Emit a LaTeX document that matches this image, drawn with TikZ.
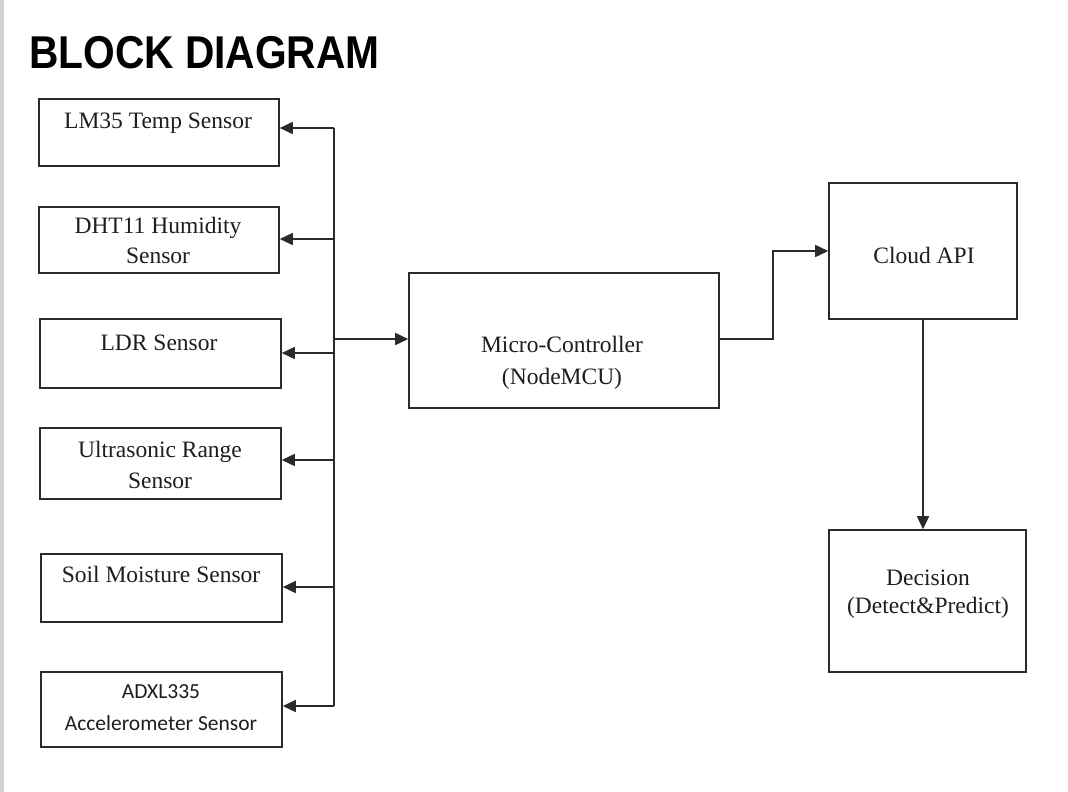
\documentclass[tikz,border=0pt]{standalone}
\usepackage{graphicx}
\usepackage{fontspec}
\setmainfont{Liberation Serif}
\newfontfamily\titlefont{Liberation Sans}
\newfontfamily\calfont{Carlito}
\usetikzlibrary{arrows.meta}
\definecolor{boxc}{HTML}{2A2A2A}
\definecolor{txtc}{HTML}{1E1E1E}
\definecolor{edgec}{HTML}{D2D2D2}
\begin{document}
\begin{tikzpicture}[x=1pt,y=-1pt,
  box/.style={draw=boxc, line width=1.6pt, inner sep=0pt},
  lbl/.style={font=\fontsize{23.5}{30}\selectfont, text=txtc, anchor=base, inner sep=0pt},
  cal/.style={font=\calfont\fontsize{21.5}{28}\selectfont, text=txtc, anchor=base, inner sep=0pt},
  wire/.style={draw=boxc, line width=1.6pt},
  conn/.style={wire, -{Triangle[length=13pt,width=12pt]}},
]
\useasboundingbox (0,0) rectangle (1068,792);
\fill[white] (0,0) rectangle (1068,792);
\fill[edgec] (0,0) rectangle (3.5,792);

% title
\node[anchor=base west, inner sep=0pt, text=black,
      font=\titlefont\bfseries\fontsize{46}{46}\selectfont] (title) at (29,69)
      {\scalebox{0.885}[1]{BLOCK DIAGRAM}};

% sensor boxes
\node[box, minimum width=240pt, minimum height=67pt] (lm)   at (159,132.5) {};
\node[box, minimum width=240pt, minimum height=66pt] (dht)  at (159,240) {};
\node[box, minimum width=241pt, minimum height=69pt] (ldr)  at (160.5,353.5) {};
\node[box, minimum width=241pt, minimum height=71pt] (us)   at (160.5,463.5) {};
\node[box, minimum width=241pt, minimum height=68pt] (soil) at (161.5,588) {};
\node[box, minimum width=241pt, minimum height=75pt] (adxl) at (161.5,709.5) {};

% main boxes
\node[box, minimum width=310pt, minimum height=135pt] (mc)    at (564,340.5) {};
\node[box, minimum width=188pt, minimum height=136pt] (cloud) at (923,251) {};
\node[box, minimum width=197pt, minimum height=142pt] (dec)   at (927.5,601) {};

% texts
\node[lbl] (lm-t)   at (158,128) {LM35 Temp Sensor};
\node[lbl] (dht-t1) at (158,233) {DHT11 Humidity};
\node[lbl] (dht-t2) at (158,263) {Sensor};
\node[lbl] (ldr-t)  at (159,350) {LDR Sensor};
\node[lbl] (us-t1)  at (160,457) {Ultrasonic Range};
\node[lbl] (us-t2)  at (160,488) {Sensor};
\node[lbl] (soil-t) at (161,582) {Soil Moisture Sensor};
\node[cal] (adxl-t1) at (161,698) {ADXL335};
\node[cal] (adxl-t2) at (161,730) {Accelerometer Sensor};
\node[lbl] (mc-t1)  at (562,352) {Micro-Controller};
\node[lbl] (mc-t2)  at (562,384) {(NodeMCU)};
\node[lbl] (cloud-t) at (924,263) {Cloud API};
\node[lbl] (dec-t1) at (928,585) {Decision};
\node[lbl] (dec-t2) at (928,613) {(Detect\&Predict)};

% bus
\coordinate (b1) at (334,128);
\coordinate (b2) at (334,239);
\coordinate (b3) at (334,353);
\coordinate (b4) at (334,460);
\coordinate (b5) at (334,587);
\coordinate (b6) at (334,706);
\coordinate (bm) at (334,339);
\draw[wire] (b1) -- (b6);
\draw[conn] (b1) -- (b1 -| lm.east);
\draw[conn] (b2) -- (b2 -| dht.east);
\draw[conn] (b3) -- (b3 -| ldr.east);
\draw[conn] (b4) -- (b4 -| us.east);
\draw[conn] (b5) -- (b5 -| soil.east);
\draw[conn] (b6) -- (b6 -| adxl.east);
\draw[conn] (bm) -- (bm -| mc.west);

% right side
\coordinate (m1) at (719,339);
\draw[conn] (m1) -- (773,339) |- (cloud.west);
\draw[conn] (cloud.south) -- (cloud.south |- dec.north);
\end{tikzpicture}
\end{document}
